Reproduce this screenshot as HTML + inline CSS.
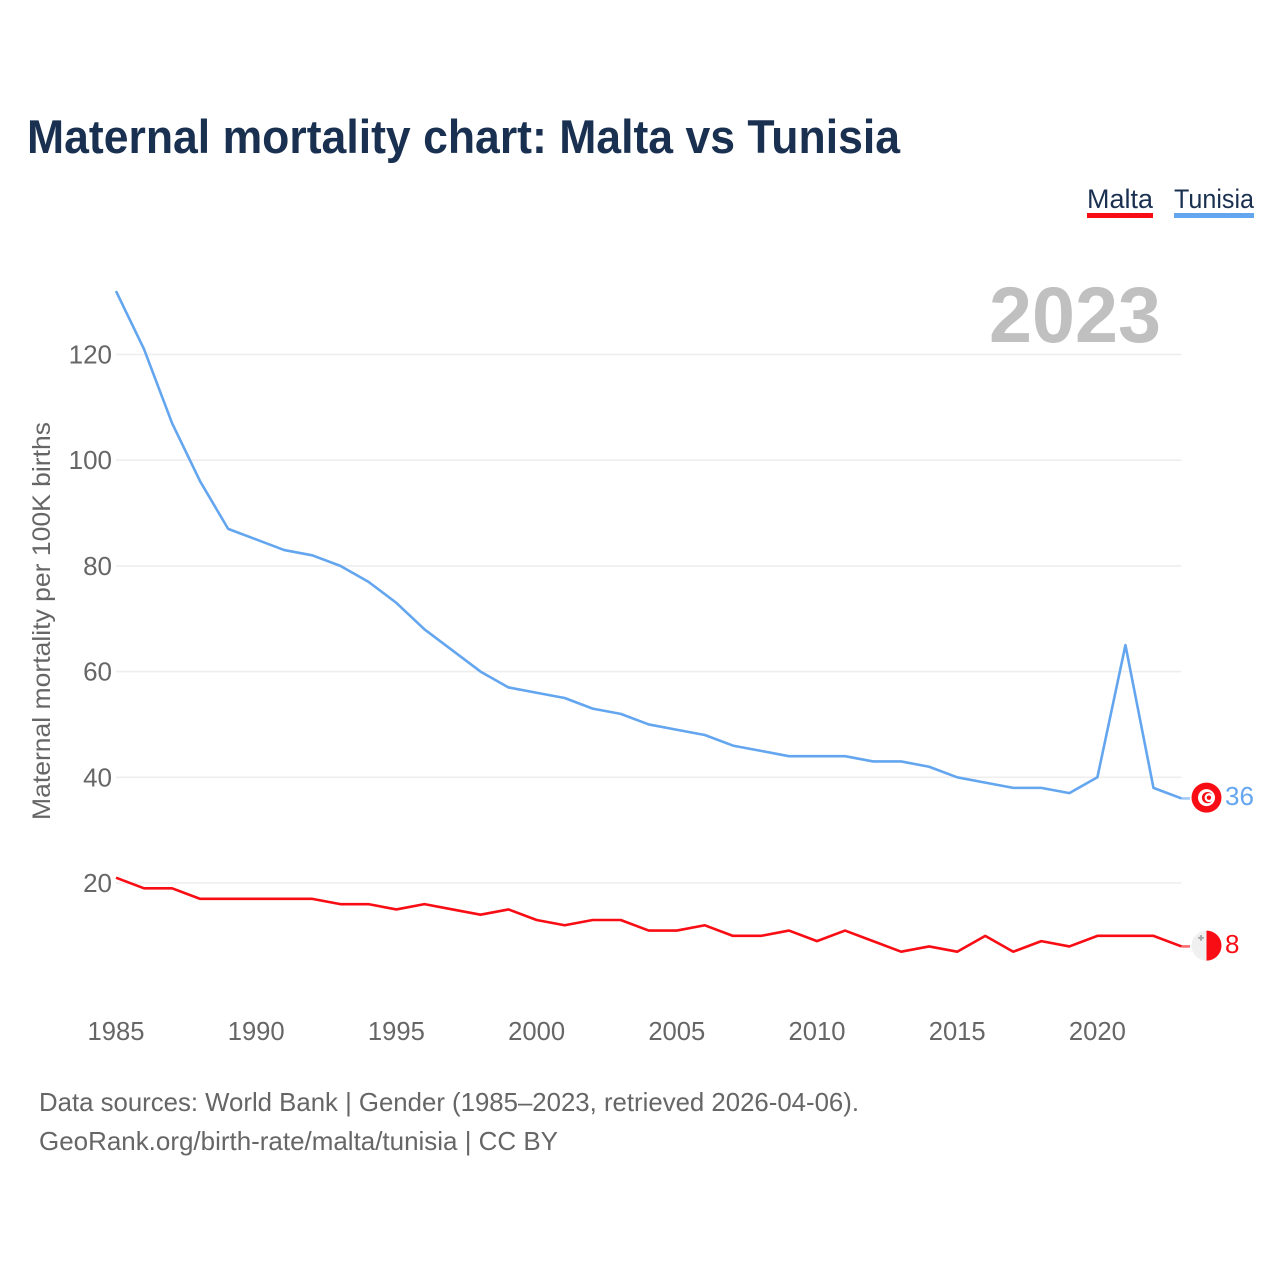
<!DOCTYPE html>
<html lang="en">
<head>
<meta charset="utf-8">
<title>Maternal mortality chart: Malta vs Tunisia</title>
<style>
html,body{margin:0;padding:0;background:#fff;width:1280px;height:1280px;overflow:hidden}
svg{display:block;font-family:"Liberation Sans",sans-serif}
</style>
</head>
<body>
<svg id="chart" width="1280" height="1280" viewBox="0 0 1280 1280" xmlns="http://www.w3.org/2000/svg">
  <text x="27" y="153" font-size="47" font-weight="700" fill="#1a3050" textLength="873" lengthAdjust="spacingAndGlyphs">Maternal mortality chart: Malta vs Tunisia</text>
  <g>
    <g>
      <text x="1087" y="208" font-size="27" fill="#1a3050" textLength="66" lengthAdjust="spacingAndGlyphs">Malta</text>
      <rect x="1087" y="213" width="66" height="5" fill="#f80d14"/>
    </g>
    <g>
      <text x="1174" y="208" font-size="27" fill="#1a3050" textLength="80" lengthAdjust="spacingAndGlyphs">Tunisia</text>
      <rect x="1174" y="213" width="80" height="5" fill="#63a6ef"/>
    </g>
  </g>
  <g id="grid"></g>
  <text x="989" y="342" font-size="79" font-weight="700" fill="#c0c0c0" textLength="172" lengthAdjust="spacingAndGlyphs">2023</text>
  <text transform="translate(50,820) rotate(-90)" x="0" y="0" font-size="25" fill="#666" textLength="398" lengthAdjust="spacingAndGlyphs">Maternal mortality per 100K births</text>
  <g id="yticks"></g>
  <g id="xticks"></g>
  <g id="series"></g>
  <g id="ends"></g>
  <text x="39" y="1111" font-size="26" fill="#666" textLength="820" lengthAdjust="spacingAndGlyphs">Data sources: World Bank | Gender (1985–2023, retrieved 2026-04-06).</text>
  <text x="39" y="1150" font-size="26" fill="#666" textLength="519" lengthAdjust="spacingAndGlyphs">GeoRank.org/birth-rate/malta/tunisia | CC BY</text>
</svg>
<script>
const years = [1985,1986,1987,1988,1989,1990,1991,1992,1993,1994,1995,1996,1997,1998,1999,2000,2001,2002,2003,2004,2005,2006,2007,2008,2009,2010,2011,2012,2013,2014,2015,2016,2017,2018,2019,2020,2021,2022,2023];
const maltaValues = [21,19,19,17,17,17,17,17,16,16,15,16,15,14,15,13,12,13,13,11,11,12,10,10,11,9,11,9,7,8,7,10,7,9,8,10,10,10,8];
const tunisiaValues = [132,121,107,96,87,85,83,82,80,77,73,68,64,60,57,56,55,53,52,50,49,48,46,45,44,44,44,43,43,42,40,39,38,38,37,40,65,38,36];
const yTickValues = [20,40,60,80,100,120];
const xTickValues = [1985,1990,1995,2000,2005,2010,2015,2020];

const NS = 'http://www.w3.org/2000/svg';
const xScale = function (year) { return 116 + (year - 1985) * 28.04; };
const yScale = function (value) { return 883 - (value - 20) * 5.285; };
function make(tag, parent, attrs, text) {
  const el = document.createElementNS(NS, tag);
  for (const k in attrs) el.setAttribute(k, attrs[k]);
  if (text !== undefined) el.textContent = text;
  parent.appendChild(el);
  return el;
}
const gridG = document.getElementById('grid');
const yG = document.getElementById('yticks');
const xG = document.getElementById('xticks');
const seriesG = document.getElementById('series');
const endsG = document.getElementById('ends');
const xEnd = xScale(years[years.length - 1]);

yTickValues.forEach(function (v) {
  const line = make('line', gridG, {x1: 116, x2: xEnd, y1: yScale(v), y2: yScale(v), stroke: '#eeeeee', 'stroke-width': 1.6});
  
  
  const label = make('text', yG, {x: 112, y: yScale(v) + 9, 'text-anchor': 'end', 'font-size': 26, fill: '#666'}, String(v));
  
  
});
xTickValues.forEach(function (v) {
  const label = make('text', xG, {x: xScale(v), y: 1040, 'text-anchor': 'middle', 'font-size': 25.6, fill: '#666'}, String(v));
  
  
});

function drawSeries(name, values, color) {
  const pts = values.map(function (v, i) { return xScale(years[i]).toFixed(2) + ',' + yScale(v).toFixed(2); }).join(' ');
  const line = make('polyline', seriesG, {points: pts, fill: 'none', stroke: color, 'stroke-width': 2.6, 'stroke-linejoin': 'round'});
  
  
  const lastY = yScale(values[values.length - 1]);
  const conn = make('line', seriesG, {x1: xEnd, x2: 1190, y1: lastY, y2: lastY, stroke: color, 'stroke-width': 2.6, opacity: 0.6});
  
  
  const label = make('text', endsG, {x: 1225, y: lastY + 6.5, 'font-size': 26, fill: color}, String(values[values.length - 1]));
  
  
  const flag = make('g', endsG, {transform: 'translate(1206.5,' + (lastY - 0.8) + ')'});
  
  
  return flag;
}
drawSeries('malta', maltaValues, '#f80d14').innerHTML =
  '<circle r="15" fill="#f0f0f0"/><path d="M0,-15A15,15 0 0 1 0,15Z" fill="#f80d14"/>' +
  '<path d="M-6.5,-10.5h2v1.8h1.8v2h-1.8v1.8h-2v-1.8h-1.8v-2h1.8z" fill="#a8a8a8"/>';
drawSeries('tunisia', tunisiaValues, '#63a6ef').innerHTML =
  '<circle r="15" fill="#f80d14"/><circle r="8.5" fill="#fff"/>' +
  '<circle cx="1" r="5.6" fill="#f80d14"/><circle cx="2.6" r="4.5" fill="#fff"/>' +
  '<circle cx="2.4" r="2.2" fill="#f80d14"/>';
</script>
</body>
</html>
